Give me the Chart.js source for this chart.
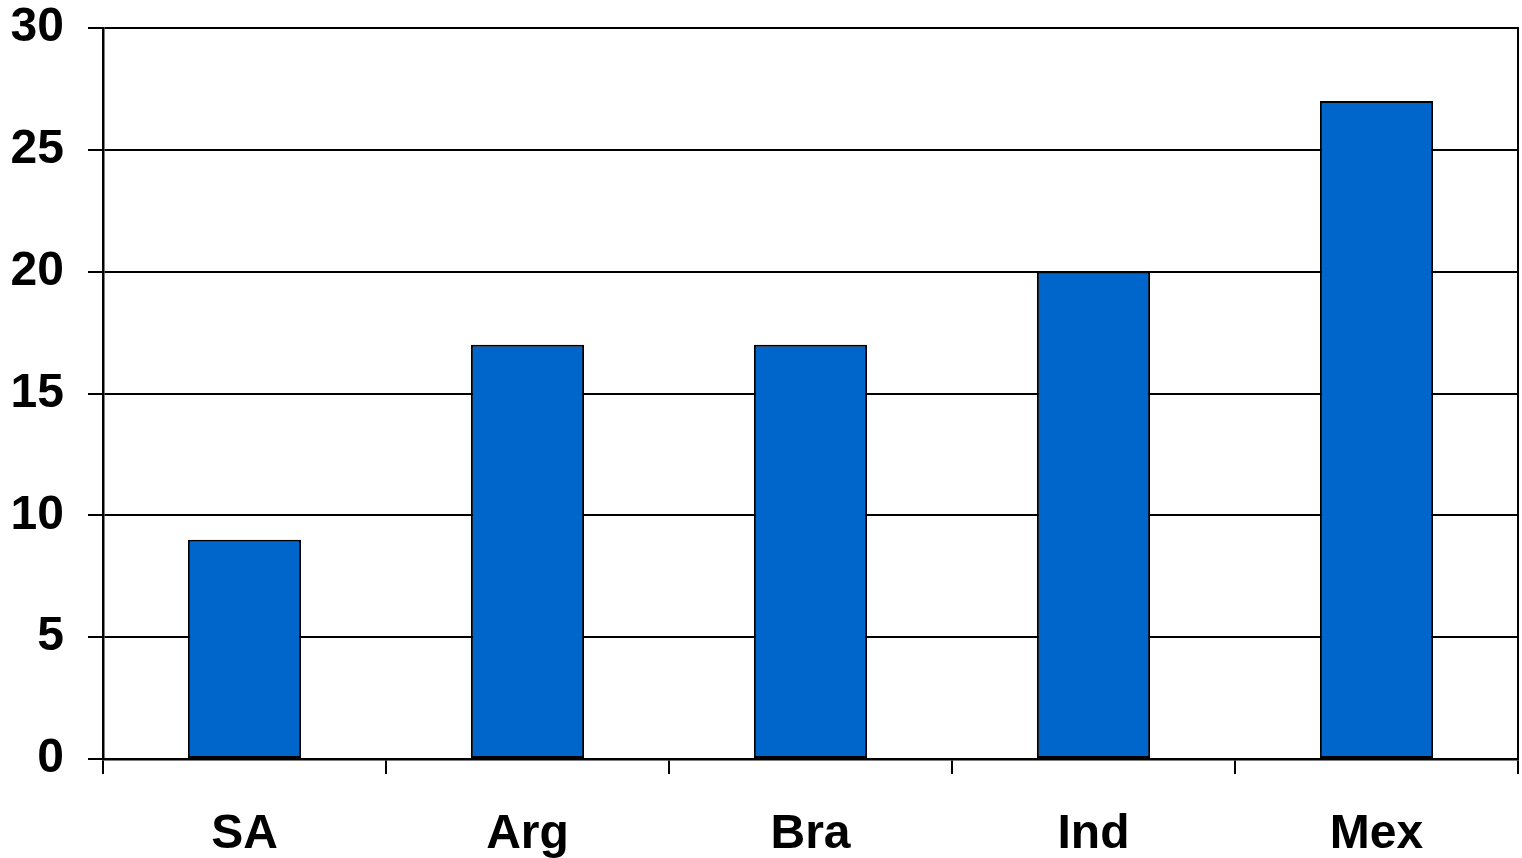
<!DOCTYPE html>
<html>
<head>
<meta charset="utf-8">
<style>
  html, body { margin: 0; padding: 0; background: #ffffff; }
  #wrap { width: 1522px; height: 858px; position: relative; }
</style>
<script src="https://cdn.jsdelivr.net/npm/chart.js@4.4.1/dist/chart.umd.min.js"></script>
</head>
<body>
<div id="wrap"><canvas id="chart"></canvas></div>
<script>
// Categories and values
const categories = ['SA', 'Arg', 'Bra', 'Ind', 'Mex'];
const values = [9, 17, 17, 20, 27];
const yTicks = [0, 5, 10, 15, 20, 25, 30];

const labelFont = { family: '"Liberation Sans", Arial, sans-serif', size: 48, weight: 'bold' };

new Chart(document.getElementById('chart'), {
  type: 'bar',
  data: {
    labels: categories,
    datasets: [{
      data: values,
      backgroundColor: '#0066CC',
      borderColor: '#000000',
      borderWidth: 2,
      borderSkipped: false,
      barPercentage: 0.8,
      categoryPercentage: 0.5
    }]
  },
  options: {
    responsive: true,
    maintainAspectRatio: false,
    animation: false,
    layout: { padding: { top: 28, right: 0, bottom: 0, left: 0 } },
    plugins: { legend: { display: false }, tooltip: { enabled: false } },
    scales: {
      x: {
        offset: true,
        grid: { display: true, drawOnChartArea: false, drawTicks: true, tickLength: 15, color: '#000', lineWidth: 2, offset: true },
        border: { display: true, color: '#000', width: 2.5 },
        ticks: { color: '#000', font: labelFont, padding: 32, maxRotation: 0 },
        afterFit: (s) => { s.height = 99; s.paddingLeft = 0; s.paddingRight = 0; }
      },
      y: {
        min: 0,
        max: 30,
        afterBuildTicks: (s) => { s.ticks = yTicks.map(v => ({ value: v })); },
        grid: { display: true, drawTicks: true, tickLength: 15, color: '#000', lineWidth: 2 },
        border: { display: true, color: '#000', width: 2.5 },
        ticks: { color: '#000', font: labelFont, padding: 24 },
        afterFit: (s) => { s.width = 103; s.paddingTop = 0; s.paddingBottom = 0; }
      },
      yRight: {
        position: 'right',
        min: 0,
        max: 30,
        grid: { display: false, drawOnChartArea: false },
        border: { display: true, color: '#000', width: 2 },
        ticks: { display: false },
        afterFit: (s) => { s.width = 4; s.paddingTop = 0; s.paddingBottom = 0; }
      }
    }
  }
});
</script>
</body>
</html>
